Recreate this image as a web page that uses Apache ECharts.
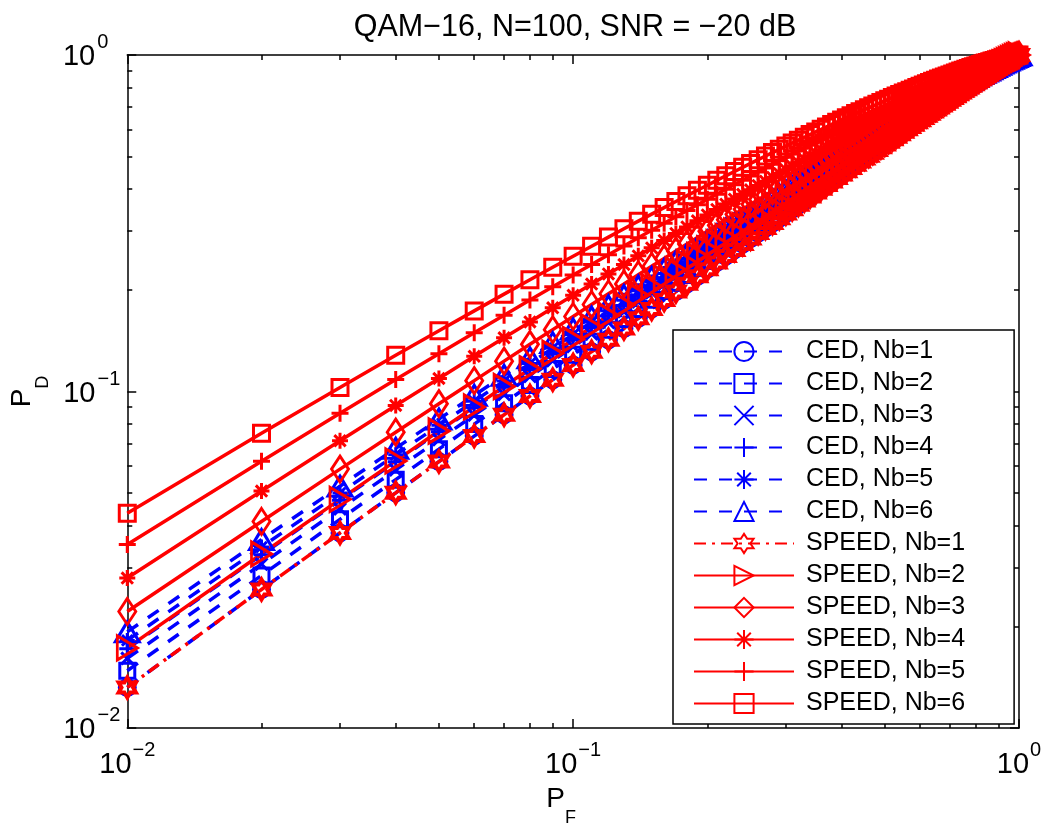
<!DOCTYPE html>
<html>
<head>
<meta charset="utf-8">
<script src="https://cdn.jsdelivr.net/npm/echarts@6/dist/echarts.min.js"></script>
<style>
html,body{margin:0;padding:0;background:#fff;}
#chart{width:1047px;height:832px;}
</style>
</head>
<body>
<div id="chart"></div>
<script>
// ---------------- data ----------------
const titleText = 'QAM\u221216, N=100, SNR = \u221220 dB';
const xName = ['P', 'F'];
const yName = ['P', 'D'];

const pf = [0.01,0.02,0.03,0.04,0.05,0.06,0.07,0.08,0.09,0.10,
0.11,0.12,0.13,0.14,0.15,0.16,0.17,0.18,0.19,0.20,
0.21,0.22,0.23,0.24,0.25,0.26,0.27,0.28,0.29,0.30,
0.31,0.32,0.33,0.34,0.35,0.36,0.37,0.38,0.39,0.40,
0.41,0.42,0.43,0.44,0.45,0.46,0.47,0.48,0.49,0.50,
0.51,0.52,0.53,0.54,0.55,0.56,0.57,0.58,0.59,0.60,
0.61,0.62,0.63,0.64,0.65,0.66,0.67,0.68,0.69,0.70,
0.71,0.72,0.73,0.74,0.75,0.76,0.77,0.78,0.79,0.80,
0.81,0.82,0.83,0.84,0.85,0.86,0.87,0.88,0.89,0.90,
0.91,0.92,0.93,0.94,0.95,0.96,0.97,0.98,0.99,1.00];

const cedNb1 = [0.0132,0.0258,0.0380,0.0500,0.0619,0.0737,0.0853,0.0969,0.1084,0.1199,
0.1313,0.1425,0.1538,0.1650,0.1760,0.1871,0.1982,0.2091,0.2201,0.2310,
0.2419,0.2526,0.2635,0.2742,0.2848,0.2956,0.3061,0.3167,0.3273,0.3378,
0.3483,0.3588,0.3693,0.3796,0.3900,0.4003,0.4106,0.4209,0.4313,0.4415,
0.4517,0.4618,0.4720,0.4821,0.4922,0.5022,0.5123,0.5223,0.5323,0.5422,
0.5522,0.5621,0.5720,0.5818,0.5916,0.6014,0.6112,0.6209,0.6307,0.6404,
0.6500,0.6596,0.6693,0.6789,0.6884,0.6979,0.7075,0.7169,0.7264,0.7358,
0.7452,0.7545,0.7639,0.7732,0.7825,0.7917,0.8009,0.8101,0.8192,0.8283,
0.8374,0.8464,0.8555,0.8644,0.8734,0.8823,0.8911,0.8999,0.9087,0.9174,
0.9261,0.9347,0.9432,0.9516,0.9600,0.9683,0.9765,0.9846,0.9925,1];

const cedNb2 = [0.0148,0.0284,0.0417,0.0547,0.0674,0.0800,0.0923,0.1046,0.1167,0.1287,
0.1406,0.1525,0.1642,0.1759,0.1875,0.1990,0.2104,0.2218,0.2331,0.2443,
0.2555,0.2667,0.2777,0.2888,0.2997,0.3106,0.3215,0.3322,0.3431,0.3538,
0.3644,0.3751,0.3857,0.3962,0.4067,0.4171,0.4276,0.4379,0.4483,0.4585,
0.4688,0.4790,0.4892,0.4993,0.5094,0.5194,0.5295,0.5395,0.5494,0.5593,
0.5692,0.5791,0.5888,0.5985,0.6083,0.6180,0.6277,0.6372,0.6468,0.6564,
0.6659,0.6753,0.6848,0.6942,0.7035,0.7129,0.7221,0.7314,0.7405,0.7497,
0.7588,0.7679,0.7769,0.7860,0.7949,0.8039,0.8127,0.8216,0.8304,0.8391,
0.8479,0.8565,0.8651,0.8736,0.8822,0.8906,0.8990,0.9073,0.9155,0.9237,
0.9319,0.9399,0.9479,0.9558,0.9636,0.9713,0.9788,0.9862,0.9934,1];

const cedNb3 = [0.0161,0.0307,0.0448,0.0585,0.0719,0.0851,0.0980,0.1108,0.1234,0.1360,
0.1483,0.1605,0.1726,0.1847,0.1966,0.2085,0.2202,0.2319,0.2435,0.2549,
0.2664,0.2778,0.2890,0.3003,0.3114,0.3225,0.3335,0.3445,0.3554,0.3663,
0.3771,0.3878,0.3985,0.4092,0.4197,0.4302,0.4407,0.4512,0.4616,0.4719,
0.4821,0.4924,0.5025,0.5127,0.5228,0.5328,0.5428,0.5528,0.5627,0.5724,
0.5823,0.5921,0.6018,0.6115,0.6211,0.6307,0.6403,0.6497,0.6592,0.6686,
0.6780,0.6873,0.6965,0.7058,0.7150,0.7242,0.7332,0.7423,0.7513,0.7603,
0.7692,0.7781,0.7869,0.7956,0.8044,0.8130,0.8216,0.8302,0.8387,0.8472,
0.8556,0.8639,0.8722,0.8804,0.8886,0.8967,0.9047,0.9127,0.9206,0.9284,
0.9362,0.9439,0.9514,0.9589,0.9662,0.9734,0.9805,0.9873,0.9940,1];

const cedNb4 = [0.0172,0.0327,0.0475,0.0618,0.0759,0.0895,0.1029,0.1162,0.1293,0.1422,
0.1549,0.1675,0.1800,0.1924,0.2045,0.2167,0.2287,0.2406,0.2524,0.2642,
0.2757,0.2873,0.2988,0.3102,0.3215,0.3328,0.3439,0.3550,0.3660,0.3770,
0.3879,0.3987,0.4095,0.4202,0.4308,0.4413,0.4520,0.4624,0.4728,0.4831,
0.4934,0.5036,0.5138,0.5240,0.5340,0.5441,0.5540,0.5639,0.5737,0.5836,
0.5933,0.6031,0.6126,0.6223,0.6319,0.6413,0.6508,0.6602,0.6695,0.6788,
0.6881,0.6973,0.7064,0.7155,0.7245,0.7335,0.7425,0.7513,0.7601,0.7690,
0.7777,0.7863,0.7950,0.8036,0.8121,0.8205,0.8289,0.8372,0.8455,0.8538,
0.8620,0.8701,0.8781,0.8861,0.8938,0.9017,0.9094,0.9171,0.9247,0.9323,
0.9396,0.9470,0.9542,0.9613,0.9683,0.9752,0.9818,0.9883,0.9944,1];

const cedNb5 = [0.0182,0.0345,0.0499,0.0649,0.0794,0.0936,0.1075,0.1211,0.1346,0.1478,
0.1609,0.1738,0.1866,0.1992,0.2117,0.2241,0.2363,0.2484,0.2605,0.2724,
0.2841,0.2958,0.3075,0.3191,0.3304,0.3418,0.3532,0.3643,0.3755,0.3865,
0.3974,0.4084,0.4192,0.4299,0.4406,0.4513,0.4618,0.4723,0.4827,0.4930,
0.5033,0.5136,0.5237,0.5338,0.5439,0.5539,0.5639,0.5736,0.5835,0.5933,
0.6030,0.6126,0.6222,0.6317,0.6412,0.6506,0.6599,0.6693,0.6784,0.6877,
0.6968,0.7059,0.7149,0.7239,0.7328,0.7416,0.7504,0.7592,0.7679,0.7765,
0.7850,0.7935,0.8020,0.8104,0.8187,0.8270,0.8352,0.8433,0.8514,0.8594,
0.8674,0.8752,0.8831,0.8907,0.8984,0.9060,0.9135,0.9209,0.9282,0.9355,
0.9425,0.9496,0.9566,0.9633,0.9701,0.9766,0.9828,0.9890,0.9948,1];

const cedNb6 = [0.0193,0.0363,0.0523,0.0678,0.0828,0.0974,0.1117,0.1258,0.1396,0.1532,
0.1664,0.1797,0.1927,0.2056,0.2182,0.2309,0.2433,0.2556,0.2678,0.2799,
0.2918,0.3037,0.3155,0.3271,0.3387,0.3502,0.3615,0.3728,0.3840,0.3951,
0.4061,0.4171,0.4280,0.4388,0.4495,0.4602,0.4708,0.4813,0.4917,0.5020,
0.5123,0.5226,0.5327,0.5428,0.5529,0.5627,0.5726,0.5825,0.5923,0.6019,
0.6116,0.6212,0.6307,0.6402,0.6495,0.6589,0.6681,0.6774,0.6865,0.6956,
0.7046,0.7136,0.7226,0.7314,0.7401,0.7488,0.7576,0.7661,0.7747,0.7831,
0.7915,0.7999,0.8082,0.8164,0.8246,0.8327,0.8407,0.8487,0.8565,0.8644,
0.8721,0.8798,0.8874,0.8949,0.9024,0.9097,0.9170,0.9242,0.9312,0.9383,
0.9451,0.9519,0.9586,0.9651,0.9715,0.9777,0.9838,0.9896,0.9951,1];

const speedNb1 = [0.0132,0.0258,0.0380,0.0500,0.0619,0.0737,0.0853,0.0969,0.1084,0.1199,
0.1313,0.1425,0.1538,0.1650,0.1760,0.1871,0.1982,0.2091,0.2201,0.2310,
0.2419,0.2526,0.2635,0.2742,0.2848,0.2956,0.3061,0.3167,0.3273,0.3378,
0.3483,0.3588,0.3693,0.3796,0.3900,0.4003,0.4106,0.4209,0.4313,0.4415,
0.4517,0.4618,0.4720,0.4821,0.4922,0.5022,0.5123,0.5223,0.5323,0.5422,
0.5522,0.5621,0.5720,0.5818,0.5916,0.6014,0.6112,0.6209,0.6307,0.6404,
0.6500,0.6596,0.6693,0.6789,0.6884,0.6979,0.7075,0.7169,0.7264,0.7358,
0.7452,0.7545,0.7639,0.7732,0.7825,0.7917,0.8009,0.8101,0.8192,0.8283,
0.8374,0.8464,0.8555,0.8644,0.8734,0.8823,0.8911,0.8999,0.9087,0.9174,
0.9261,0.9347,0.9432,0.9516,0.9600,0.9683,0.9765,0.9846,0.9925,1];

const speedNb2 = [0.0173,0.0329,0.0478,0.0622,0.0763,0.0900,0.1035,0.1168,0.1299,0.1428,
0.1556,0.1683,0.1807,0.1932,0.2053,0.2176,0.2296,0.2415,0.2533,0.2652,
0.2767,0.2883,0.2998,0.3112,0.3226,0.3339,0.3450,0.3561,0.3672,0.3781,
0.3890,0.3999,0.4106,0.4214,0.4320,0.4425,0.4531,0.4636,0.4740,0.4843,
0.4946,0.5048,0.5150,0.5252,0.5352,0.5453,0.5551,0.5651,0.5749,0.5848,
0.5944,0.6042,0.6138,0.6234,0.6330,0.6425,0.6519,0.6613,0.6706,0.6798,
0.6892,0.6983,0.7075,0.7165,0.7255,0.7345,0.7435,0.7523,0.7611,0.7699,
0.7786,0.7872,0.7958,0.8044,0.8129,0.8213,0.8297,0.8380,0.8463,0.8544,
0.8626,0.8707,0.8787,0.8866,0.8944,0.9023,0.9099,0.9176,0.9251,0.9327,
0.9400,0.9473,0.9545,0.9616,0.9685,0.9753,0.9819,0.9883,0.9944,1];

const speedNb3 = [0.0222,0.0411,0.0588,0.0757,0.0920,0.1077,0.1231,0.1381,0.1527,0.1671,
0.1813,0.1952,0.2088,0.2223,0.2356,0.2487,0.2617,0.2745,0.2871,0.2996,
0.3119,0.3241,0.3362,0.3482,0.3600,0.3717,0.3833,0.3947,0.4062,0.4174,
0.4287,0.4397,0.4506,0.4615,0.4724,0.4831,0.4937,0.5042,0.5146,0.5250,
0.5353,0.5455,0.5555,0.5655,0.5755,0.5854,0.5951,0.6048,0.6145,0.6240,
0.6335,0.6429,0.6522,0.6615,0.6707,0.6798,0.6888,0.6978,0.7067,0.7155,
0.7242,0.7329,0.7416,0.7501,0.7585,0.7669,0.7752,0.7835,0.7916,0.7997,
0.8077,0.8156,0.8235,0.8314,0.8391,0.8467,0.8543,0.8618,0.8691,0.8765,
0.8838,0.8909,0.8980,0.9050,0.9119,0.9187,0.9254,0.9320,0.9386,0.9449,
0.9512,0.9574,0.9634,0.9693,0.9751,0.9807,0.9860,0.9911,0.9959,1];

const speedNb4 = [0.0279,0.0506,0.0714,0.0909,0.1093,0.1272,0.1444,0.1610,0.1773,0.1931,
0.2086,0.2236,0.2384,0.2530,0.2672,0.2811,0.2949,0.3084,0.3217,0.3348,
0.3477,0.3605,0.3730,0.3854,0.3976,0.4097,0.4216,0.4333,0.4449,0.4564,
0.4678,0.4790,0.4900,0.5010,0.5118,0.5225,0.5331,0.5436,0.5539,0.5641,
0.5743,0.5843,0.5943,0.6040,0.6138,0.6233,0.6329,0.6424,0.6516,0.6610,
0.6701,0.6791,0.6881,0.6969,0.7057,0.7144,0.7230,0.7314,0.7398,0.7482,
0.7563,0.7644,0.7724,0.7803,0.7882,0.7960,0.8037,0.8113,0.8188,0.8262,
0.8336,0.8408,0.8480,0.8551,0.8621,0.8689,0.8757,0.8825,0.8891,0.8957,
0.9020,0.9084,0.9146,0.9208,0.9267,0.9327,0.9385,0.9441,0.9497,0.9552,
0.9605,0.9657,0.9707,0.9756,0.9803,0.9849,0.9892,0.9933,0.9970,1];

const speedNb5 = [0.0351,0.0620,0.0862,0.1085,0.1294,0.1494,0.1686,0.1869,0.2047,0.2219,
0.2386,0.2549,0.2708,0.2862,0.3013,0.3162,0.3307,0.3448,0.3587,0.3724,
0.3857,0.3989,0.4117,0.4245,0.4370,0.4492,0.4613,0.4732,0.4850,0.4965,
0.5079,0.5191,0.5301,0.5411,0.5517,0.5623,0.5728,0.5832,0.5933,0.6033,
0.6133,0.6230,0.6327,0.6422,0.6516,0.6608,0.6701,0.6791,0.6883,0.6972,
0.7058,0.7144,0.7229,0.7313,0.7396,0.7477,0.7558,0.7637,0.7715,0.7792,
0.7868,0.7943,0.8017,0.8090,0.8162,0.8233,0.8303,0.8373,0.8441,0.8509,
0.8576,0.8641,0.8705,0.8769,0.8831,0.8893,0.8953,0.9012,0.9070,0.9127,
0.9184,0.9239,0.9292,0.9345,0.9397,0.9449,0.9497,0.9546,0.9593,0.9639,
0.9684,0.9726,0.9768,0.9809,0.9846,0.9883,0.9918,0.9950,0.9978,1];

const speedNb6 = [0.0435,0.0751,0.1027,0.1281,0.1515,0.1736,0.1947,0.2147,0.2340,0.2524,
0.2703,0.2876,0.3044,0.3208,0.3366,0.3520,0.3671,0.3819,0.3963,0.4103,
0.4241,0.4375,0.4506,0.4636,0.4763,0.4887,0.5009,0.5128,0.5245,0.5361,
0.5475,0.5585,0.5695,0.5803,0.5909,0.6012,0.6115,0.6217,0.6315,0.6413,
0.6508,0.6603,0.6696,0.6787,0.6878,0.6966,0.7053,0.7140,0.7224,0.7307,
0.7390,0.7471,0.7551,0.7629,0.7707,0.7783,0.7858,0.7931,0.8005,0.8075,
0.8144,0.8214,0.8282,0.8349,0.8415,0.8479,0.8543,0.8606,0.8667,0.8728,
0.8787,0.8846,0.8903,0.8959,0.9015,0.9068,0.9120,0.9173,0.9224,0.9274,
0.9323,0.9370,0.9417,0.9462,0.9507,0.9550,0.9592,0.9632,0.9672,0.9710,
0.9747,0.9783,0.9817,0.9850,0.9881,0.9911,0.9938,0.9962,0.9984,1];

const seriesNames = ['CED, Nb=1','CED, Nb=2','CED, Nb=3','CED, Nb=4','CED, Nb=5','CED, Nb=6',
  'SPEED, Nb=1','SPEED, Nb=2','SPEED, Nb=3','SPEED, Nb=4','SPEED, Nb=5','SPEED, Nb=6'];

const majorTickValues = [0.01, 0.1, 1];
const majorTickExponents = ['\u22122', '\u22121', '0'];
const minorTickValues = [0.02,0.03,0.04,0.05,0.06,0.07,0.08,0.09,0.2,0.3,0.4,0.5,0.6,0.7,0.8,0.9];

// ---------------- styles ----------------
const FONT = 'Liberation Sans';
const BLUE = '#0000ff';
const RED = '#ff0000';
const SYM = {
  xmark: 'path://M0,0L10,10M10,0L0,10',
  plus: 'path://M5,0L5,10M0,5L10,5',
  aster: 'path://M5,0L5,10M0,5L10,5M1.46,1.46L8.54,8.54M8.54,1.46L1.46,8.54',
  hexa: 'path://M10,0L12.89,5L18.66,5L15.77,10L18.66,15L12.89,15L10,20L7.11,15L1.34,15L4.23,10L1.34,5L7.11,5Z',
  triRight: 'path://M0,0L10,5L0,10Z'
};
const DASH = [13, 12];
const DASHDOT = [12, 6, 3, 6];

function mkSeries(name, values, color, symbol, size, lineType, keepAspect, border) {
  return {
    name: name,
    type: 'line',
    color: color,
    data: pf.map(function (x, i) { return [x, values[i]]; }),
    xAxisIndex: 0, yAxisIndex: 0,
    symbol: symbol,
    symbolSize: size,
    symbolKeepAspect: !!keepAspect,
    showSymbol: true,
    clip: false,
    animation: false,
    lineStyle: { color: color, width: 3.5, type: lineType },
    itemStyle: { color: 'rgba(255,255,255,0)', borderColor: color, borderWidth: border || 3 },
    emphasis: { disabled: true }
  };
}

const series = [
  mkSeries(seriesNames[0], cedNb1, BLUE, 'circle', 16, DASH),
  mkSeries(seriesNames[1], cedNb2, BLUE, 'rect', 15, DASH),
  mkSeries(seriesNames[2], cedNb3, BLUE, SYM.xmark, 12, DASH),
  mkSeries(seriesNames[3], cedNb4, BLUE, SYM.plus, 16, DASH),
  mkSeries(seriesNames[4], cedNb5, BLUE, SYM.aster, 15, DASH),
  mkSeries(seriesNames[5], cedNb6, BLUE, 'triangle', [24, 20], DASH),
  mkSeries(seriesNames[6], speedNb1, RED, SYM.hexa, 20, DASHDOT, true, 4),
  mkSeries(seriesNames[7], speedNb2, RED, SYM.triRight, [20, 24], 'solid'),
  mkSeries(seriesNames[8], speedNb3, RED, 'diamond', [17, 26], 'solid'),
  mkSeries(seriesNames[9], speedNb4, RED, SYM.aster, 16, 'solid'),
  mkSeries(seriesNames[10], speedNb5, RED, SYM.plus, 17, 'solid'),
  mkSeries(seriesNames[11], speedNb6, RED, 'rect', 16, 'solid')
];

function tickIndex(v) {
  let best = 0;
  for (let i = 0; i < majorTickValues.length; i++) {
    if (Math.abs(Math.log10(v) - Math.log10(majorTickValues[i])) < Math.abs(Math.log10(v) - Math.log10(majorTickValues[best]))) best = i;
  }
  return best;
}
function xLabel(v) {
  return '{a|10}{b|' + majorTickExponents[tickIndex(v)] + '}';
}
function yLabel(v) {
  const e = majorTickExponents[tickIndex(v)];
  return '{a|10}{' + (e.length > 1 ? 'b' : 'c') + '|' + e + '}';
}

const AX_LINE = { show: true, lineStyle: { color: '#000', width: 1.5 } };
function baseAxis(position, isMajor, showLine) {
  return {
    type: 'log', logBase: 10, min: 0.01, max: 1, position: position,
    axisLine: showLine ? AX_LINE : { show: false },
    axisTick: { show: true, inside: true, length: isMajor ? 9 : 5,
      customValues: isMajor ? majorTickValues : minorTickValues,
      lineStyle: { color: '#000', width: 1.5 } },
    axisLabel: { show: false },
    splitLine: { show: false },
    minorTick: { show: false },
    silent: true
  };
}

const xMain = baseAxis('bottom', true, true);
xMain.axisLabel = {
  show: true, customValues: majorTickValues, margin: 22, color: '#000',
  formatter: xLabel,
  rich: {
    a: { fontFamily: FONT, fontSize: 29, lineHeight: 29, verticalAlign: 'bottom', color: '#000' },
    b: { fontFamily: FONT, fontSize: 20, lineHeight: 20, padding: [0, 0, 19, 1], verticalAlign: 'bottom', color: '#000' }
  }
};
xMain.name = '{p|' + xName[0] + '}{s|' + xName[1] + '}';
xMain.nameLocation = 'middle';
xMain.nameGap = 57;
xMain.nameTextStyle = { padding: [0, 24, 0, 0], rich: {
  p: { fontFamily: FONT, fontSize: 28, lineHeight: 28, verticalAlign: 'top', color: '#000' },
  s: { fontFamily: FONT, fontSize: 18, lineHeight: 18, padding: [24, 0, 0, 0], verticalAlign: 'top', color: '#000' }
} };

const yMain = baseAxis('left', true, true);
yMain.axisLabel = {
  show: true, customValues: majorTickValues, margin: 7, color: '#000',
  padding: [4, 0, 0, 0],
  formatter: yLabel,
  rich: {
    a: { fontFamily: FONT, fontSize: 29, lineHeight: 29, verticalAlign: 'bottom', color: '#000' },
    b: { fontFamily: FONT, fontSize: 20, lineHeight: 20, padding: [0, 0, 19, 2], verticalAlign: 'bottom', color: '#000' },
    c: { fontFamily: FONT, fontSize: 20, lineHeight: 20, padding: [0, 12, 19, 2], verticalAlign: 'bottom', color: '#000' }
  }
};
yMain.name = '{p|' + yName[0] + '}{s|' + yName[1] + '}';
yMain.nameLocation = 'middle';
yMain.nameRotate = 90;
yMain.nameGap = 65;
yMain.nameTextStyle = { rich: {
  p: { fontFamily: FONT, fontSize: 28, lineHeight: 28, verticalAlign: 'top', color: '#000' },
  s: { fontFamily: FONT, fontSize: 18, lineHeight: 18, padding: [26, 0, 0, 0], verticalAlign: 'top', color: '#000' }
} };

const option = {
  backgroundColor: '#ffffff',
  animation: false,
  textStyle: { fontFamily: FONT },
  title: {
    text: titleText, left: 570, top: 7, textAlign: 'center',
    textStyle: { fontFamily: FONT, fontSize: 30.5, fontWeight: 'normal', color: '#000' }
  },
  grid: { left: 124, right: 28, top: 55, bottom: 99, containLabel: false },
  xAxis: [xMain, baseAxis('bottom', false, false), baseAxis('top', true, true), baseAxis('top', false, false)],
  yAxis: [yMain, baseAxis('left', false, false), baseAxis('right', true, true), baseAxis('right', false, false)],
  legend: {
    orient: 'vertical', left: 673, top: 330,
    data: seriesNames,
    itemWidth: 100, itemHeight: 24, itemGap: 7,
    padding: [9, 49, 8, 20],
    backgroundColor: '#fff', borderColor: '#000', borderWidth: 1.5, borderRadius: 0,
    selectedMode: false,
    textStyle: { fontFamily: FONT, fontSize: 25, lineHeight: 25, color: '#000', padding: [0, 0, 0, 7] }
  },
  series: series
};

const chart = echarts.init(document.getElementById('chart'), null, { renderer: 'canvas' });
chart.setOption(option);
</script>
</body>
</html>
